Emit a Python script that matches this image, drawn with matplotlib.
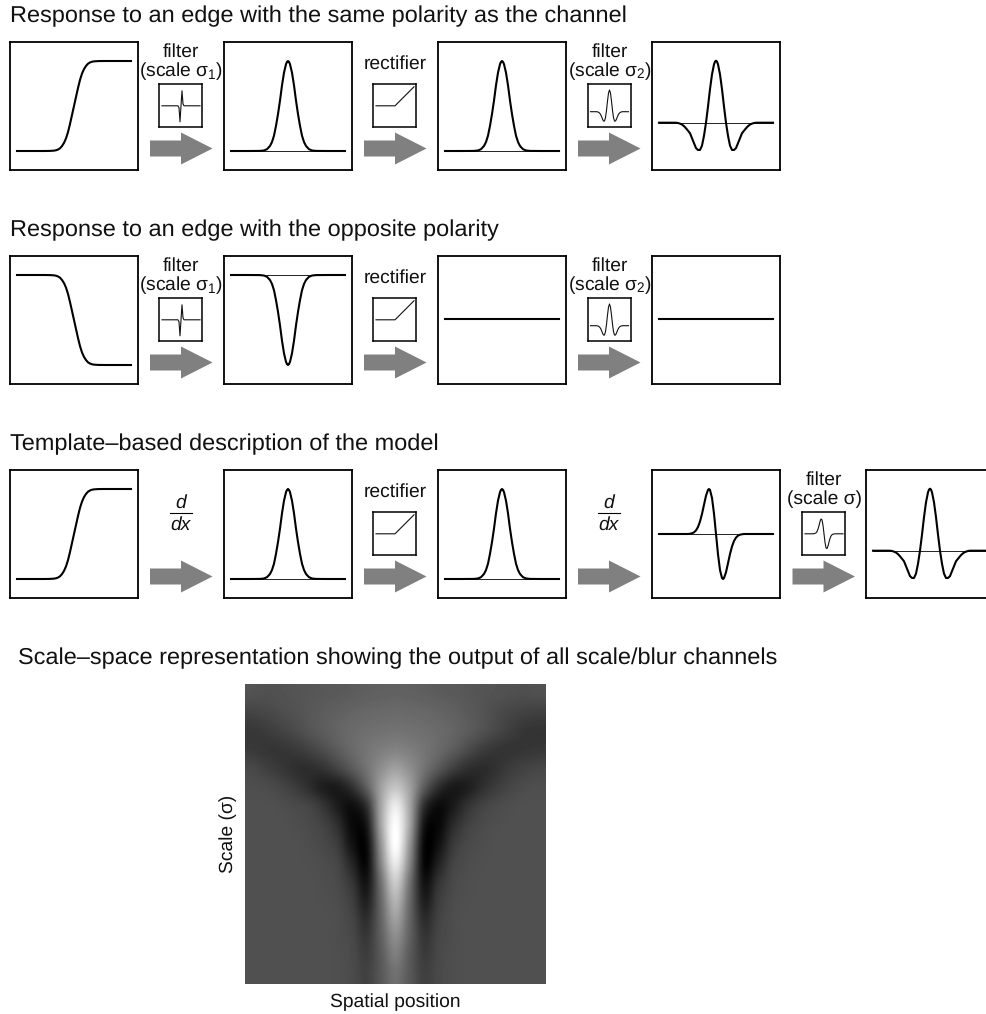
# -*- coding: utf-8 -*-
import numpy as np
import matplotlib
matplotlib.use("Agg")
import matplotlib.pyplot as plt

plt.rcParams['font.family'] = ['Liberation Sans', 'DejaVu Sans']
plt.rcParams['mathtext.fontset'] = 'custom'
plt.rcParams['mathtext.rm'] = 'Liberation Sans'
plt.rcParams['mathtext.default'] = 'regular'
plt.rcParams['text.hinting'] = 'no_hinting'

W, H = 987, 1014

# curves, x = px from the centre of the panel
bump_x = [-57, -40, -28, -24, -21, -18, -16, -14, -12, -10, -8, -6, -4, -2, -1, 0,
          1, 2, 4, 6, 8, 10, 12, 14, 16, 18, 21, 24, 28, 40, 57]
bump_y = [0, 0, 0.001, 0.006, 0.02, 0.056, 0.10, 0.17, 0.28, 0.41, 0.56, 0.73, 0.87, 0.965, 0.99, 1,
          0.99, 0.965, 0.87, 0.73, 0.56, 0.41, 0.28, 0.17, 0.10, 0.056, 0.02, 0.006, 0.001, 0, 0]

edge_x = [-57, -30, -24, -20, -18, -16, -14, -12, -10, -8, -6, -4, -2, 0,
          2, 4, 6, 8, 10, 12, 14, 16, 18, 20, 24, 30, 57]
edge_y = [0, 0, 0.001, 0.004, 0.008, 0.016, 0.03, 0.055, 0.09, 0.14, 0.21, 0.30, 0.40, 0.5,
          0.60, 0.70, 0.79, 0.86, 0.91, 0.945, 0.97, 0.984, 0.992, 0.996, 0.999, 1, 1]

hat_x = [-57, -40, -38, -36, -34, -32, -30, -28, -26, -24, -22, -20, -18, -16, -14, -12, -10,
         -8, -6, -4, -2, -1, 0, 1, 2, 4, 6, 8,
         10, 12, 14, 16, 18, 20, 22, 24, 26, 28, 30, 32, 34, 36, 38, 40, 57]
hat_y = [0, 0, -0.005, -0.015, -0.03, -0.055, -0.09, -0.13, -0.17, -0.25, -0.33, -0.41, -0.44, -0.44, -0.37, -0.21, 0,
         0.26, 0.54, 0.78, 0.941, 0.985, 1, 0.985, 0.941, 0.78, 0.54, 0.26,
         0, -0.21, -0.37, -0.44, -0.44, -0.41, -0.33, -0.25, -0.17, -0.13, -0.09, -0.055, -0.03, -0.015, -0.005, 0, 0]

odd_x = [-57, -28, -26, -24, -22, -20, -18, -16, -14, -12, -10, -8, -7, -6, -4, -2, 0,
         2, 4, 6, 7, 8, 10, 12, 14, 16, 18, 20, 22, 24, 26, 28, 57]
odd_y = [0, 0, 0.006, 0.016, 0.037, 0.08, 0.156, 0.277, 0.446, 0.65, 0.85, 0.98, 1, 0.98, 0.80, 0.452, 0,
         -0.452, -0.80, -0.98, -1, -0.98, -0.85, -0.65, -0.446, -0.277, -0.156, -0.08, -0.037, -0.016, -0.006, 0, 0]

# small filter glyphs, x = px from the centre of the little box
fine_x = [-19, -3, -2, -1, 0, 1, 2, 3, 19]
fine_y = [0, 0, -2, -16, 0, 15, 2, 0, 0]

wide_x = [-19, -13, -12, -11, -10, -9, -8, -7, -6, -5, -4, -3, -2, -1, 0,
          1, 2, 3, 4, 5, 6, 7, 8, 9, 10, 11, 12, 13, 19]
wide_y = [0, 0, -0.008, -0.025, -0.06, -0.12, -0.22, -0.34, -0.43, -0.43, -0.27, 0.064, 0.49, 0.856, 1,
          0.856, 0.49, 0.064, -0.27, -0.43, -0.43, -0.34, -0.22, -0.12, -0.06, -0.025, -0.008, 0, 0]

deriv_x = [-19, -11, -10, -9, -8, -7, -6, -5, -4, -3, -2, -1, 0,
           1, 2, 3, 4, 5, 6, 7, 8, 9, 10, 11, 19]
deriv_y = [0, 0, 0.008, 0.03, 0.06, 0.15, 0.31, 0.55, 0.815, 0.99, 0.93, 0.57, 0,
           -0.57, -0.93, -0.99, -0.815, -0.55, -0.31, -0.15, -0.06, -0.03, -0.008, 0, 0]

rect_x = [-19, 0, 19]
rect_y = [0, 0, 19]

scale_space = [
    [82, 80, 82, 84, 86, 88, 90, 92, 95, 97, 98, 97, 95, 92, 90, 87, 84, 82, 80, 78, 80],
    [68, 72, 77, 82, 87, 92, 96, 100, 103, 105, 106, 105, 103, 100, 96, 90, 84, 76, 70, 66, 64],
    [56, 60, 66, 74, 84, 92, 100, 106, 110, 113, 115, 113, 110, 106, 100, 92, 82, 72, 62, 54, 52],
    [58, 54, 54, 58, 66, 78, 92, 105, 116, 125, 130, 125, 116, 105, 92, 76, 62, 54, 52, 54, 56],
    [72, 64, 56, 48, 46, 52, 68, 90, 115, 142, 160, 142, 115, 88, 64, 48, 44, 50, 60, 66, 70],
    [78, 76, 70, 60, 46, 30, 28, 50, 95, 160, 195, 160, 92, 46, 26, 30, 46, 60, 70, 76, 78],
    [80, 80, 78, 74, 68, 52, 28, 15, 50, 165, 235, 165, 48, 12, 26, 50, 66, 74, 78, 80, 80],
    [80, 80, 80, 78, 74, 66, 45, 10, 25, 165, 252, 165, 22, 8, 42, 64, 74, 78, 80, 80, 80],
    [80, 80, 80, 80, 77, 72, 58, 18, 12, 150, 255, 150, 10, 16, 56, 72, 77, 80, 80, 80, 80],
    [80, 80, 80, 80, 79, 76, 68, 35, 10, 135, 235, 135, 8, 32, 66, 76, 79, 80, 80, 80, 80],
    [80, 80, 80, 80, 80, 78, 73, 52, 20, 115, 205, 115, 18, 50, 72, 78, 80, 80, 80, 80, 80],
    [80, 80, 80, 80, 80, 79, 76, 62, 32, 105, 180, 105, 30, 60, 75, 79, 80, 80, 80, 80, 80],
    [80, 80, 80, 80, 80, 80, 78, 68, 46, 100, 160, 100, 44, 66, 77, 80, 80, 80, 80, 80, 80],
    [80, 80, 80, 80, 80, 80, 78, 72, 56, 96, 140, 96, 54, 70, 77, 80, 80, 80, 80, 80, 80],
    [80, 80, 80, 80, 80, 80, 79, 74, 62, 90, 125, 90, 60, 72, 78, 80, 80, 80, 80, 80, 80],
    [80, 80, 80, 80, 80, 80, 79, 75, 66, 88, 112, 88, 64, 73, 78, 80, 80, 80, 80, 80, 80],
]

titles = ["Response to an edge with the same polarity as the channel",
          "Response to an edge with the opposite polarity",
          "Template–based description of the model",
          "Scale–space representation showing the output of all scale/blur channels"]

ROW_TOP = [42, 256, 470]
PANEL_LEFT = [10, 224, 438, 652, 866]
GLYPH_LEFT = [159.5, 373.5, 588, 802.5]
ARROW_LEFT = [150, 364, 578, 792.5]
TITLE_POS = [(10, 22.5), (10, 236.5), (10, 450.5), (18, 664.5)]
FS = 16.9
LABEL_FS = 13.9


def px_axes(l, t, w, h):
    ax = fig.add_axes([l / W, 1 - (t + h) / H, w / W, h / H])
    ax.set_xticks([])
    ax.set_yticks([])
    return ax


def panel(col, top, curve=None, amp=90, base=19, thin=False):
    ax = px_axes(PANEL_LEFT[col], top, 128, 128)
    ax.set_xlim(-64, 64)
    ax.set_ylim(-base, 128 - base)
    for s in ax.spines.values():
        s.set_linewidth(1.3)
    if thin:
        ax.plot([-57, 57], [0, 0], color='#222222', lw=0.7)
    if curve is not None:
        ax.plot(curve[0], np.array(curve[1]) * amp, color='k', lw=1.5, solid_joinstyle='round')
    return ax


def glyph(col, top, x, y, amp=1, base=21.5):
    ax = px_axes(GLYPH_LEFT[col], top + 42.3, 43, 43)
    ax.set_xlim(-21.5, 21.5)
    ax.set_ylim(-base, 43 - base)
    for s in ax.spines.values():
        s.set_linewidth(1.1)
    ax.plot(x, np.array(y) * amp, color='#111111', lw=0.8)


def arrow(over, col, top):
    l = ARROW_LEFT[col]
    c = top + 106.5
    over.fill([l, l + 31, l + 31, l + 62.5, l + 31, l + 31, l],
              [c - 8, c - 8, c - 16, c, c + 16, c + 8, c + 8],
              color='#808080', lw=0)


fig = plt.figure(figsize=(W / 100, H / 100), dpi=100)

# overlay for text and arrows, in picture pixels
over = fig.add_axes([0, 0, 1, 1], zorder=5)
over.set_xlim(0, W)
over.set_ylim(H, 0)
over.axis('off')
over.patch.set_alpha(0)

for t, (x, y) in zip(titles, TITLE_POS):
    over.text(x, y, t, fontsize=FS, va='baseline', ha='left', color='#111111')


def filt_label(col, top, sub):
    xc = GLYPH_LEFT[col] + 21.5
    over.text(xc, top + 14.5, "filter", fontsize=LABEL_FS, ha='center', va='baseline', color='#111111')
    over.text(xc, top + 34.5, "(scale σ" + sub + ")", fontsize=LABEL_FS, ha='center', va='baseline', color='#111111')


def rect_label(top):
    over.text(395, top + 27, "rectifier", fontsize=LABEL_FS, ha='center', va='baseline', color='#111111')


def ddx(xc, top):
    over.text(xc, top + 38, "d", fontsize=LABEL_FS, style='italic', ha='center', va='baseline', color='#111111')
    over.plot([xc - 11, xc + 11], [top + 42.7, top + 42.7], color='k', lw=0.8)
    over.text(xc, top + 60, "dx", fontsize=LABEL_FS, style='italic', ha='center', va='baseline', color='#111111')


# row 1
top = ROW_TOP[0]
panel(0, top, (edge_x, edge_y))
panel(1, top, (bump_x, bump_y), thin=True)
panel(2, top, (bump_x, bump_y), thin=True)
panel(3, top, (hat_x, hat_y), amp=62, base=47.3, thin=True)
glyph(0, top, fine_x, fine_y)
glyph(1, top, rect_x, rect_y)
glyph(2, top, wide_x, wide_y, amp=21.7, base=15.6)
filt_label(0, top, "$_1$")
rect_label(top)
filt_label(2, top, "$_2$")
for c in range(3):
    arrow(over, c, top)

# row 2
top = ROW_TOP[1]
panel(0, top, (edge_x, edge_y[::-1]))
panel(1, top, (bump_x, -np.array(bump_y)), base=109, thin=True)
panel(2, top, ([-57, 57], [0, 0]), amp=1, base=65)
panel(3, top, ([-57, 57], [0, 0]), amp=1, base=65)
glyph(0, top, fine_x, fine_y)
glyph(1, top, rect_x, rect_y)
glyph(2, top, wide_x, wide_y, amp=21.7, base=15.6)
filt_label(0, top, "$_1$")
rect_label(top)
filt_label(2, top, "$_2$")
for c in range(3):
    arrow(over, c, top)

# row 3
top = ROW_TOP[2]
panel(0, top, (edge_x, edge_y))
panel(1, top, (bump_x, bump_y), thin=True)
panel(2, top, (bump_x, bump_y), thin=True)
panel(3, top, (odd_x, odd_y), amp=45, base=64, thin=True)
panel(4, top, (hat_x, hat_y), amp=62, base=47.3, thin=True)
glyph(1, top, rect_x, rect_y)
glyph(3, top, deriv_x, deriv_y, amp=15)
ddx(181, top)
rect_label(top)
ddx(609, top)
filt_label(3, top, "")
for c in range(4):
    arrow(over, c, top)

# scale-space image
ax = px_axes(245, 684, 301, 300)
ax.imshow(scale_space, cmap='gray', vmin=0, vmax=255, aspect='auto', interpolation='catrom')
for s in ax.spines.values():
    s.set_visible(False)
over.text(228, 834, "Scale (σ)", rotation=90, fontsize=LABEL_FS, ha='center', va='center', color='#111111')
over.text(395, 1007, "Spatial position", fontsize=LABEL_FS, ha='center', va='baseline', color='#111111')

fig.savefig("out.png", dpi=100)
